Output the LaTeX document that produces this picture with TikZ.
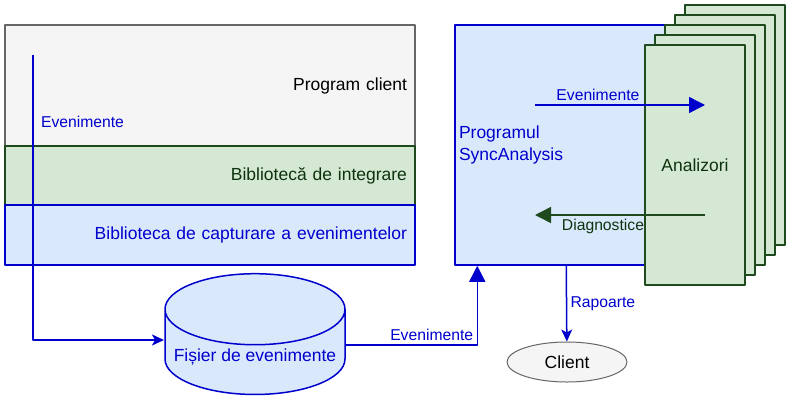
\documentclass[tikz,border=0pt]{standalone}
\usepackage{fontspec}
\setmainfont{Liberation Sans}
\usetikzlibrary{%
  arrows.meta,%
  calc,%
  positioning,%
  shapes.geometric% cylinder, ellipse
}
\definecolor{grayfill}{HTML}{F5F5F5}
\definecolor{grayline}{HTML}{666666}
\definecolor{greenfill}{HTML}{D5E8D4}
\definecolor{greenline}{HTML}{1E4A1E}
\definecolor{greentext}{HTML}{0D330D}
\definecolor{bluefill}{HTML}{DAE8FC}
\definecolor{blueline}{HTML}{0000CC}

\begin{document}
\begin{tikzpicture}[x=1pt,y=-1pt,
    line join=round,
    big/.style={font=\fontsize{17.5}{20.5}\selectfont},
    small/.style={font=\fontsize{15.7}{18}\selectfont},
    layer/.style={rectangle,draw,line width=1.5pt,outer sep=0pt,
        minimum width=410pt,text width=394pt,align=right,inner xsep=8pt,big},
    card/.style={rectangle,draw=greenline,fill=greenfill,line width=1.5pt,
        minimum width=100pt,minimum height=240pt,text=greentext,big},
    flow/.style={draw=blueline,line width=1.5pt,
        -{Stealth[length=12pt,width=11pt,inset=3pt]}},
    block/.style={line width=1.5pt,-{Triangle[length=16pt,width=16pt]}}
  ]
    \useasboundingbox (0,0) rectangle (790,400);

    % client program and its libraries
    \node[layer,fill=grayfill,draw=grayline,minimum height=121pt] (prog)
        at (210,85.5) {Program client};
    \node[layer,fill=greenfill,draw=greenline,text=greentext,
        minimum height=59pt,below=0pt of prog] (integ) {Bibliotecă de integrare};
    \node[layer,fill=bluefill,draw=blueline,text=blueline,
        minimum height=60pt,below=0pt of integ] (capt)
        {Biblioteca de capturare a evenimentelor};

    \node[cylinder,shape border rotate=90,aspect=0.42,draw=blueline,
        fill=bluefill,line width=1.5pt,minimum width=180pt,minimum height=106pt,
        text=blueline,big] (file) at (255,357) {Fișier de evenimente};

    % analyzers behind and in front of SyncAnalysis
    \foreach \k in {4,3}
        \node[card] (card\k) at (695+10*\k,165-10*\k) {};
    \node[rectangle,draw=blueline,fill=bluefill,line width=1.5pt,
        minimum width=210pt,minimum height=240pt,text width=202pt,
        inner xsep=4pt,align=left,text=blueline,big,
        font=\fontsize{17.5}{22.5}\selectfont] (sync) at (560,145)
        {Programul\\SyncAnalysis};
    \foreach \k in {2,1}
        \node[card] (card\k) at (695+10*\k,165-10*\k) {};
    \node[card] (analyzers) at (695,165) {Analizori};

    \node[ellipse,draw=grayline,fill=grayfill,line width=1pt,
        minimum width=120pt,minimum height=40pt,inner sep=0pt,big] (client)
        at (567,362) {Client};

    \coordinate (evtop)   at (33,55);
    \coordinate (filein)  at (164,340);
    \coordinate (fileout) at (346,345);
    \coordinate (evin)    at (535,105);
    \coordinate (evout)   at (705,105);
    \coordinate (dgin)    at (705,215);
    \coordinate (dgout)   at (535,215);

    \draw[flow] (evtop) |- node[pos=0.118,anchor=west,xshift=4pt,
        text=blueline,small] {Evenimente} (filein);
    \draw[block,draw=blueline] (fileout) -| node[pos=0.5,
        anchor=south east,text=blueline,small] {Evenimente}
        ([xshift=23pt]sync.south west);
    \draw[flow] ([xshift=112pt]sync.south west) -- node[right,text=blueline,
        small] {Rapoarte} (client);
    \draw[block,draw=blueline] (evin) -- node[pos=0.37,above,
        text=blueline,small] {Evenimente} (evout);
    \draw[block,draw=greenline] (dgin) -- node[pos=0.6,below,
        text=greentext,small] {Diagnostice} (dgout);
\end{tikzpicture}
\end{document}
